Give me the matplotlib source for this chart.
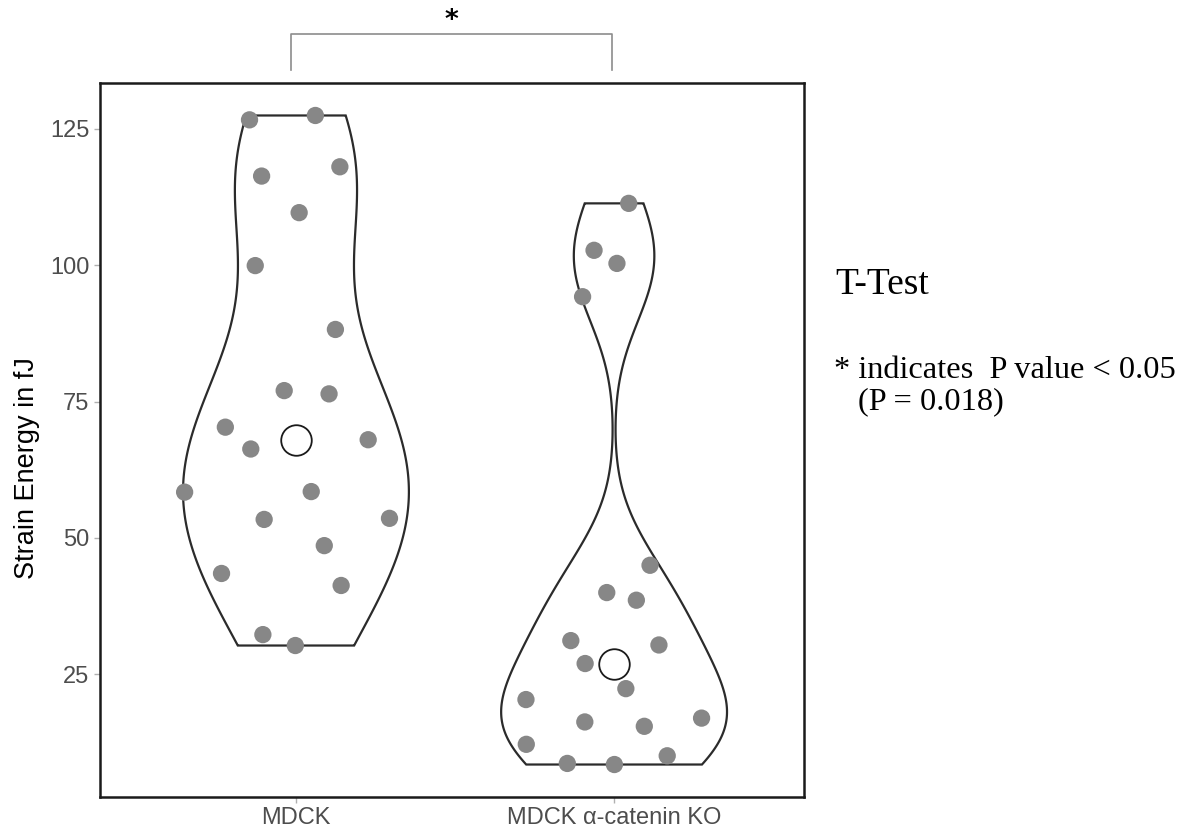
import numpy as np
import matplotlib.pyplot as plt

# ---------------------------------------------------------------------------
# Data
# ---------------------------------------------------------------------------
GROUPS = ["MDCK", "MDCK \u03b1-catenin KO"]

MDCK_ENERGY = [126.6, 127.4, 118.0, 116.3, 109.6, 99.9, 88.2, 77.0, 76.4, 70.3,
               66.3, 68.0, 58.4, 58.5, 53.4, 53.6, 48.6, 43.5, 41.3, 32.3, 30.3]
MDCK_JITTER = [-0.146, 0.061, 0.138, -0.108, 0.010, -0.128, 0.124, -0.037,
               0.104, -0.222, -0.142, 0.227, -0.350, 0.048, -0.100, 0.294,
               0.089, -0.234, 0.142, -0.104, -0.002]

KO_ENERGY = [111.3, 102.7, 100.3, 94.2, 45.0, 40.0, 38.6, 31.2, 30.4, 27.0,
             22.4, 20.4, 16.3, 15.5, 17.0, 12.2, 10.1, 8.7, 8.5]
KO_JITTER = [0.046, -0.063, 0.009, -0.099, 0.113, -0.023, 0.070, -0.136,
             0.141, -0.091, 0.037, -0.277, -0.092, 0.095, 0.275, -0.276,
             0.167, -0.147, 0.001]

Y_TICKS = [25, 50, 75, 100, 125]
Y_LABEL = "Strain Energy in fJ"
SIG_LABEL = "*"
NOTE_TITLE = "T-Test"
NOTE_LINE1 = "* indicates  P value < 0.05"
NOTE_LINE2 = "(P = 0.018)"

W, H = 1185, 832


def nrd0(x):
    x = np.asarray(x, float)
    q75, q25 = np.percentile(x, [75, 25])
    lo = min(np.std(x, ddof=1), (q75 - q25) / 1.34)
    return 0.9 * lo * len(x) ** -0.2


def kde(x, grid):
    x = np.asarray(x, float)
    bw = nrd0(x)
    z = (grid[:, None] - x[None, :]) / bw
    return np.exp(-0.5 * z ** 2).sum(axis=1) / (len(x) * bw * np.sqrt(2 * np.pi))


def draw_violin(ax, pos, values, jitter, half_width=0.355):
    values = np.asarray(values, float)
    grid = np.linspace(values.min(), values.max(), 512)
    dens = kde(values, grid)
    dens = dens / dens.max() * half_width
    xs = np.concatenate([pos - dens, (pos + dens)[::-1]])
    ys = np.concatenate([grid, grid[::-1]])
    ax.fill(xs, ys, facecolor="white", edgecolor="#2b2b2b", linewidth=1.6,
            zorder=2)
    ax.scatter(pos + np.asarray(jitter), values, s=155, color="#878787",
               edgecolors="none", zorder=3)
    ax.plot([pos], [np.median(values)], marker="o", markersize=22,
            markerfacecolor="white", markeredgecolor="#1a1a1a",
            markeredgewidth=1.3, zorder=4)


fig = plt.figure(figsize=(W / 100, H / 100), dpi=100)
ax = fig.add_axes([100 / W, 1 - 797 / H, 704 / W, 714 / H])

draw_violin(ax, 1, MDCK_ENERGY, MDCK_JITTER)
draw_violin(ax, 2, KO_ENERGY, KO_JITTER)

ax.set_xlim(0.384, 2.597)
ax.set_ylim(2.55, 133.35)
ax.set_xticks([1, 2])
ax.set_xticklabels(GROUPS)
ax.set_yticks(Y_TICKS)
ax.tick_params(axis="both", colors="#b0b0b0", labelcolor="#4d4d4d",
               labelsize=17, length=4, width=1)
for lab in ax.get_xticklabels() + ax.get_yticklabels():
    lab.set_family("Liberation Sans")
for sp in ax.spines.values():
    sp.set_linewidth(1.8)
    sp.set_color("#1a1a1a")

fig.text(27 / W, 1 - 468 / H, Y_LABEL, rotation=90, ha="center", va="center",
         fontsize=19.5, family="Liberation Sans", color="black")

# significance bracket above the panel
tr = ax.get_xaxis_transform()
ax.plot([0.985, 0.985, 1.995, 1.995], [1.018, 1.0686, 1.0686, 1.018],
        color="#8c8c8c", linewidth=1.2, transform=tr, clip_on=False)
ax.text(1.49, 1.087, SIG_LABEL, transform=tr, ha="center", va="center",
        fontsize=19, fontweight="bold", color="black")

# side note
fig.text(835 / W, 1 - 285 / H, NOTE_TITLE, ha="left", va="center",
         fontsize=27, family="Liberation Serif")
fig.text(834 / W, 1 - 370 / H, NOTE_LINE1, ha="left", va="center",
         fontsize=23.3, family="Liberation Serif")
fig.text(858 / W, 1 - 402 / H, NOTE_LINE2, ha="left", va="center",
         fontsize=23.3, family="Liberation Serif")

fig.savefig("out.png", dpi=100)
